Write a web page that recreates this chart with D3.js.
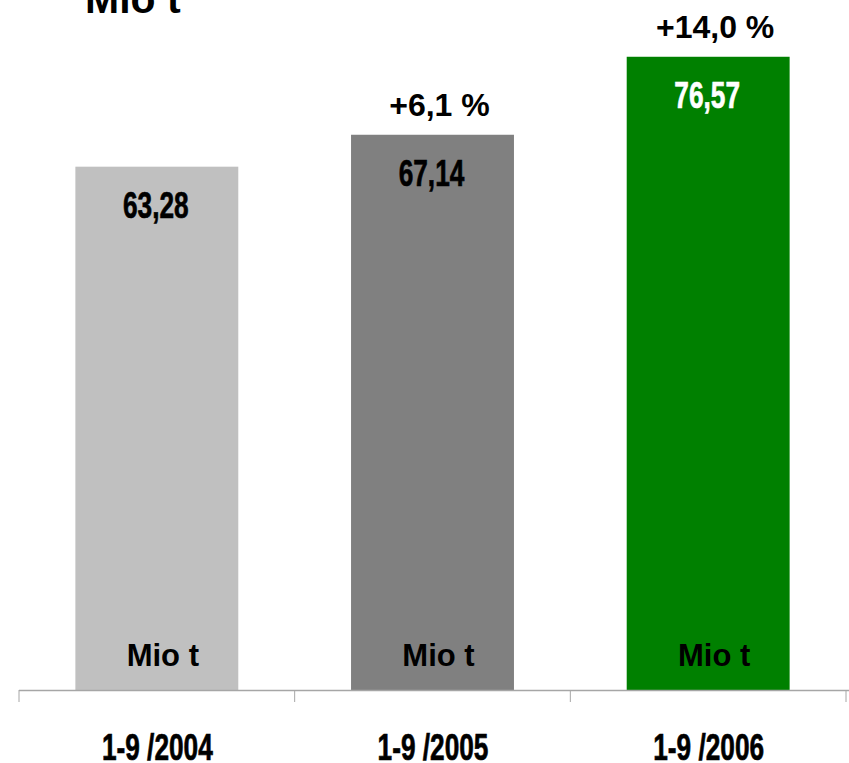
<!DOCTYPE html>
<html>
<head>
<meta charset="utf-8">
<script src="https://cdn.jsdelivr.net/npm/d3@7"></script>
<style>
  body { margin: 0; background: #fff; }
  svg { display: block; }
  .bold { font-family: "Liberation Sans", Arial, sans-serif; font-weight: bold; }
  .narrow { font-family: "Liberation Sans", Arial, sans-serif; font-weight: bold; stroke-width: 0.7px; paint-order: stroke; }
</style>
</head>
<body>
<div class="graphics"></div>
<script>
// data
var periods = ["1-9 /2004", "1-9 /2005", "1-9 /2006"];
var values = [63.28, 67.14, 76.57];
var valueLabels = ["63,28", "67,14", "76,57"];
var changeLabels = ["", "+6,1 %", "+14,0 %"];
var unitLabel = "Mio t";
var barColors = ["#c0c0c0", "#808080", "#008000"];
var valueColors = ["#000", "#000", "#fff"];

var width = 849, height = 763;
var baseY = 690;
var squeeze = 0.7; // condensed look of the value / period labels

var svg = d3.select(".graphics")
    .append("svg")
    .attr("width", width)
    .attr("height", height);

// scales
var x = d3.scaleBand()
    .domain(periods)
    .range([19, 846])
    .paddingInner(0.409)
    .paddingOuter(0.2045);

var y = d3.scaleLinear()
    .domain([0, 80])
    .range([baseY, baseY - 80 * 8.27]);

// title
svg.append("text")
    .attr("class", "bold")
    .attr("x", 85)
    .attr("y", 13)
    .style("font-size", "41px")
    .text(unitLabel);

// bars
svg.selectAll("rect.bar")
    .data(values)
    .enter()
    .append("rect")
    .attr("class", "bar")
    .attr("x", function(d, i) { return x(periods[i]); })
    .attr("y", function(d) { return y(d); })
    .attr("width", x.bandwidth())
    .attr("height", function(d) { return y(0) - y(d); })
    .attr("fill", function(d, i) { return barColors[i]; });

function cx(i) { return x(periods[i]) + x.bandwidth() / 2; }

// value labels inside bars (narrow, tall)
svg.selectAll("text.val")
    .data(values)
    .enter()
    .append("text")
    .attr("class", "val narrow")
    .attr("text-anchor", "middle")
    .attr("transform", function(d, i) {
        return "translate(" + (cx(i) - 1) + "," + (y(d) + 51.5) + ") scale(" + squeeze + ",1)";
    })
    .style("font-size", "37.5px")
    .attr("fill", function(d, i) { return valueColors[i]; })
    .attr("stroke", function(d, i) { return valueColors[i]; })
    .text(function(d, i) { return valueLabels[i]; });

// change labels above bars
svg.selectAll("text.chg")
    .data(values)
    .enter()
    .append("text")
    .attr("class", "chg bold")
    .attr("text-anchor", "middle")
    .attr("x", function(d, i) { return cx(i) + 7; })
    .attr("y", function(d) { return y(d) - 19; })
    .style("font-size", "32px")
    .text(function(d, i) { return changeLabels[i]; });

// unit labels at the bottom of bars
svg.selectAll("text.unit")
    .data(values)
    .enter()
    .append("text")
    .attr("class", "unit bold")
    .attr("text-anchor", "middle")
    .attr("x", function(d, i) { return cx(i) + 6; })
    .attr("y", y(0) - 24)
    .style("font-size", "31px")
    .text(unitLabel);

// x axis: baseline with ticks on band boundaries
var axis = svg.append("g");
axis.append("line")
    .attr("x1", x.range()[0])
    .attr("x2", width)
    .attr("y1", baseY + 0.5)
    .attr("y2", baseY + 0.5)
    .attr("stroke", "#a6a6a6")
    .attr("stroke-width", 1.5);

var tickPos = d3.range(periods.length + 1).map(function(i) { return x.range()[0] + i * x.step(); });
axis.selectAll("line.tick")
    .data(tickPos)
    .enter()
    .append("line")
    .attr("class", "tick")
    .attr("x1", function(d) { return d; })
    .attr("x2", function(d) { return d; })
    .attr("y1", baseY)
    .attr("y2", baseY + 12)
    .attr("stroke", "#a6a6a6")
    .attr("stroke-width", 1);

// category labels
axis.selectAll("text.cat")
    .data(periods)
    .enter()
    .append("text")
    .attr("class", "cat narrow")
    .attr("text-anchor", "middle")
    .attr("transform", function(d) {
        return "translate(" + (x(d) + x.bandwidth() / 2 + 0.5) + "," + 759.5 + ") scale(" + squeeze + ",1)";
    })
    .style("font-size", "37.5px")
    .attr("fill", "#000")
    .attr("stroke", "#000")
    .text(function(d) { return d; });
</script>
</body>
</html>
